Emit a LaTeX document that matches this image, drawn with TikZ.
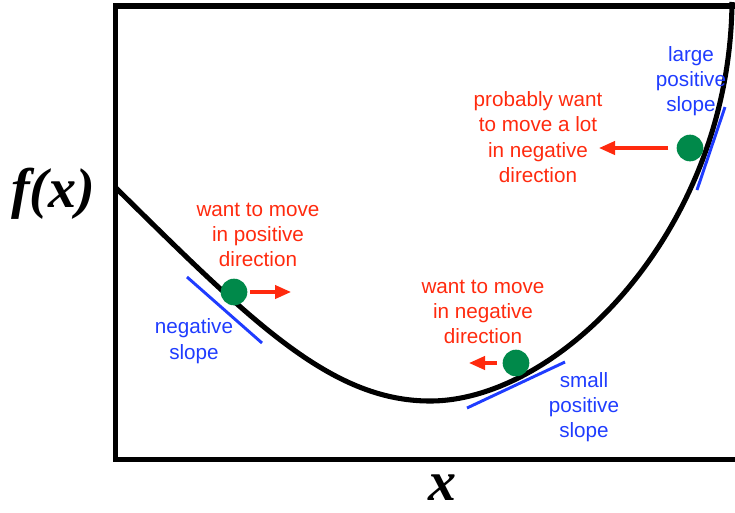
\documentclass[tikz,border=0pt]{standalone}
\usepackage{fontspec}
\setmainfont{Liberation Sans}
\newfontfamily\axisfont{Liberation Serif}
\usetikzlibrary{arrows.meta}
\definecolor{movecol}{HTML}{FF2A0E}
\definecolor{slopecol}{HTML}{1F3CFF}
\definecolor{ballcol}{HTML}{00894A}

\tikzset{
  ball/.style={circle,fill=ballcol,inner sep=0pt,minimum size=20pt},
  push/.style={-{Triangle[length=12pt,width=10pt]},movecol,line width=2.3pt},
  tangent/.style={slopecol,line width=2.2pt},
  note/.style={align=center,font=\fontsize{15.5pt}{19pt}\selectfont,inner sep=0pt},
  axislabel/.style={font=\axisfont\bfseries\itshape\fontsize{42pt}{42pt}\selectfont,inner sep=0pt}
}

\begin{document}
\begin{tikzpicture}[x=0.75pt,y=-0.75pt]
  \useasboundingbox (0,0) rectangle (735,512);
  % frame, open to the right
  \draw[line width=4.3pt] (740,6) -- (115.5,6) -- (115.5,459.5) -- (740,459.5);
  % the function
  \draw[line width=3.8pt,line join=round] (116,188) .. controls (250,320) and (330,401) .. (430,401)
    .. controls (560,401) and (730,230) .. (732,2);
  % tangent lines
  \draw[tangent] (187,277) -- (262,343);
  \draw[tangent] (467,408) -- (565,362);
  \draw[tangent] (697,190) -- (725,107);
  % balls and the way they should go
  \node[ball] (b1) at (234,292) {};
  \node[ball] (b2) at (516,363) {};
  \node[ball] (b3) at (690,148) {};
  \coordinate (t1) at (291,292);
  \coordinate (t2) at (469,363);
  \coordinate (t3) at (599,148);
  \draw[push,shorten <=2pt] (b1) -- (t1);
  \draw[push,shorten <=4pt] (b2) -- (t2);
  \draw[push,shorten <=6pt] (b3) -- (t3);
  % labels
  \node[note,movecol] (m1) at (258,235) {want to move\\in positive\\direction};
  \node[note,movecol] (m2) at (483,312) {want to move\\in negative\\direction};
  \node[note,movecol] (m3) at (538,137) {probably want\\to move a lot\\in negative\\direction};
  \node[note,slopecol] (s1) at (194,341) {negative\\slope};
  \node[note,slopecol] (s2) at (584,407) {small\\positive\\slope};
  \node[note,slopecol] (s3) at (691,81) {large\\positive\\slope};
  \node[axislabel] (fx) at (53,194) {f(x)};
  \node[axislabel] (xx) at (442,488) {x};
\end{tikzpicture}
\end{document}
